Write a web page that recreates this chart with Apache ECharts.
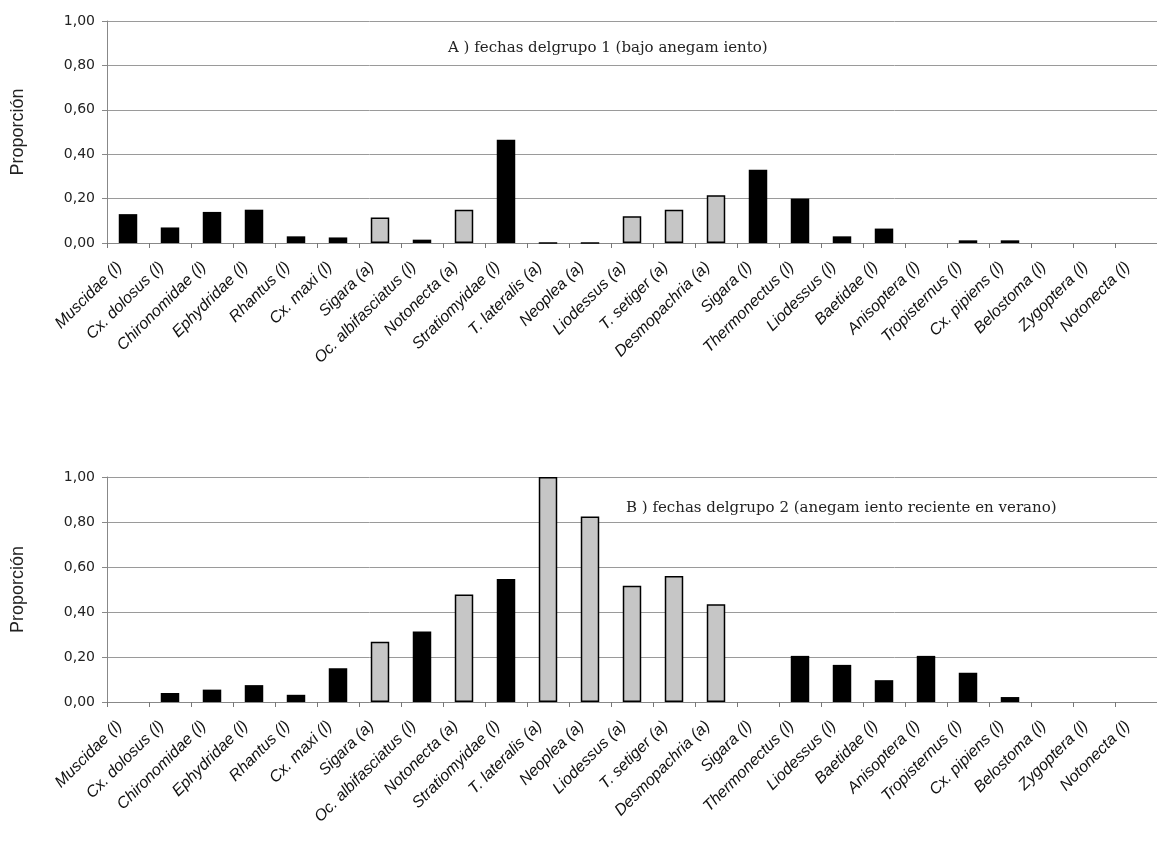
<!DOCTYPE html>
<html>
<head>
<meta charset="utf-8">
<script src="https://cdn.jsdelivr.net/npm/echarts@6/dist/echarts.min.js"></script>
<style>
html,body{margin:0;padding:0;background:#fff;}
#chart{width:1157px;height:868px;}
</style>
</head>
<body>
<div id="chart"></div>
<script>
const categories = ['Muscidae (l)', 'Cx. dolosus (l)', 'Chironomidae (l)', 'Ephydridae (l)', 'Rhantus (l)', 'Cx. maxi (l)', 'Sigara (a)', 'Oc. albifasciatus (l)', 'Notonecta (a)', 'Stratiomyidae (l)', 'T. lateralis (a)', 'Neoplea (a)', 'Liodessus (a)', 'T. setiger (a)', 'Desmopachria (a)', 'Sigara (l)', 'Thermonectus (l)', 'Liodessus (l)', 'Baetidae (l)', 'Anisoptera (l)', 'Tropisternus (l)', 'Cx. pipiens (l)', 'Belostoma (l)', 'Zygoptera (l)', 'Notonecta (l)'];
const stages = ['l','l','l','l','l','l','a','l','a','l','a','a','a','a','a','l','l','l','l','l','l','l','l','l','l'];
const group1Values = [0.13, 0.07, 0.14, 0.15, 0.03, 0.025, 0.115, 0.015, 0.15, 0.465, 0, 0, 0.12, 0.15, 0.215, 0.33, 0.20, 0.03, 0.065, 0, 0.012, 0.012, 0, 0, 0];
const group2Values = [0, 0.04, 0.055, 0.075, 0.032, 0.15, 0.268, 0.313, 0.478, 0.547, 1.00, 0.825, 0.517, 0.56, 0.435, 0, 0.205, 0.165, 0.097, 0.205, 0.13, 0.022, 0, 0, 0];
const titleA = 'A ) fechas delgrupo 1 (bajo anegam iento)';
const titleB = 'B ) fechas delgrupo 2 (anegam iento reciente en verano)';
const yName = 'Proporción';

const chart = echarts.init(document.getElementById('chart'), null, {renderer: 'canvas'});

function buildData(vals) {
  return vals.map((v, i) => ({
    value: v,
    itemStyle: stages[i] === 'a'
      ? {color: '#c6c6c6', borderColor: '#000', borderWidth: 1.5}
      : {color: '#000', borderColor: '#000', borderWidth: 0}
  }));
}

const gridLineColor = '#9a9a9a';
function xAxis(gi) {
  return {
    type: 'category', gridIndex: gi, data: categories,
    axisLine: {show: true, lineStyle: {color: '#888', width: 1}},
    axisTick: {show: true, length: 5, lineStyle: {color: '#777'}},
    axisLabel: {
      rotate: 45, interval: 0, margin: 13, padding: [0, 12, 0, 0],
      fontFamily: 'Liberation Sans, Arial, sans-serif', fontStyle: 'italic',
      fontSize: 16, color: '#111'
    }
  };
}
function yAxis(gi) {
  return {
    type: 'value', gridIndex: gi, min: 0, max: 1, interval: 0.2,
    name: yName, nameLocation: 'middle', nameGap: 80, nameRotate: 90,
    nameTextStyle: {fontFamily: 'Liberation Sans, Arial, sans-serif', fontSize: 18, color: '#222'},
    axisLine: {show: true, lineStyle: {color: '#888', width: 1}},
    axisTick: {show: true, length: 5, lineStyle: {color: '#888'}},
    splitLine: {show: true, lineStyle: {color: gridLineColor, width: 1}},
    axisLabel: {
      margin: 12, fontFamily: 'DejaVu Sans, sans-serif', fontSize: 14, color: '#222',
      formatter: v => v.toFixed(2).replace('.', ',')
    }
  };
}

const titleStyle = {fontFamily: 'DejaVu Serif, serif', fontWeight: 'normal', fontSize: 15, color: '#222'};
const option = {
  backgroundColor: '#fff',
  animation: false,
  title: [
    {text: titleA, left: 443, top: 36, textStyle: titleStyle},
    {text: titleB, left: 621, top: 496, textStyle: titleStyle}
  ],
  grid: [
    {left: 107, top: 21, height: 222, right: -10, containLabel: false},
    {left: 107, top: 477, height: 225, right: -10, containLabel: false}
  ],
  xAxis: [xAxis(0), xAxis(1)],
  yAxis: [yAxis(0), yAxis(1)],
  series: [
    {type: 'bar', xAxisIndex: 0, yAxisIndex: 0, barWidth: '44%', data: buildData(group1Values)},
    {type: 'bar', xAxisIndex: 1, yAxisIndex: 1, barWidth: '44%', data: buildData(group2Values)}
  ]
};
chart.setOption(option);
</script>
</body>
</html>
